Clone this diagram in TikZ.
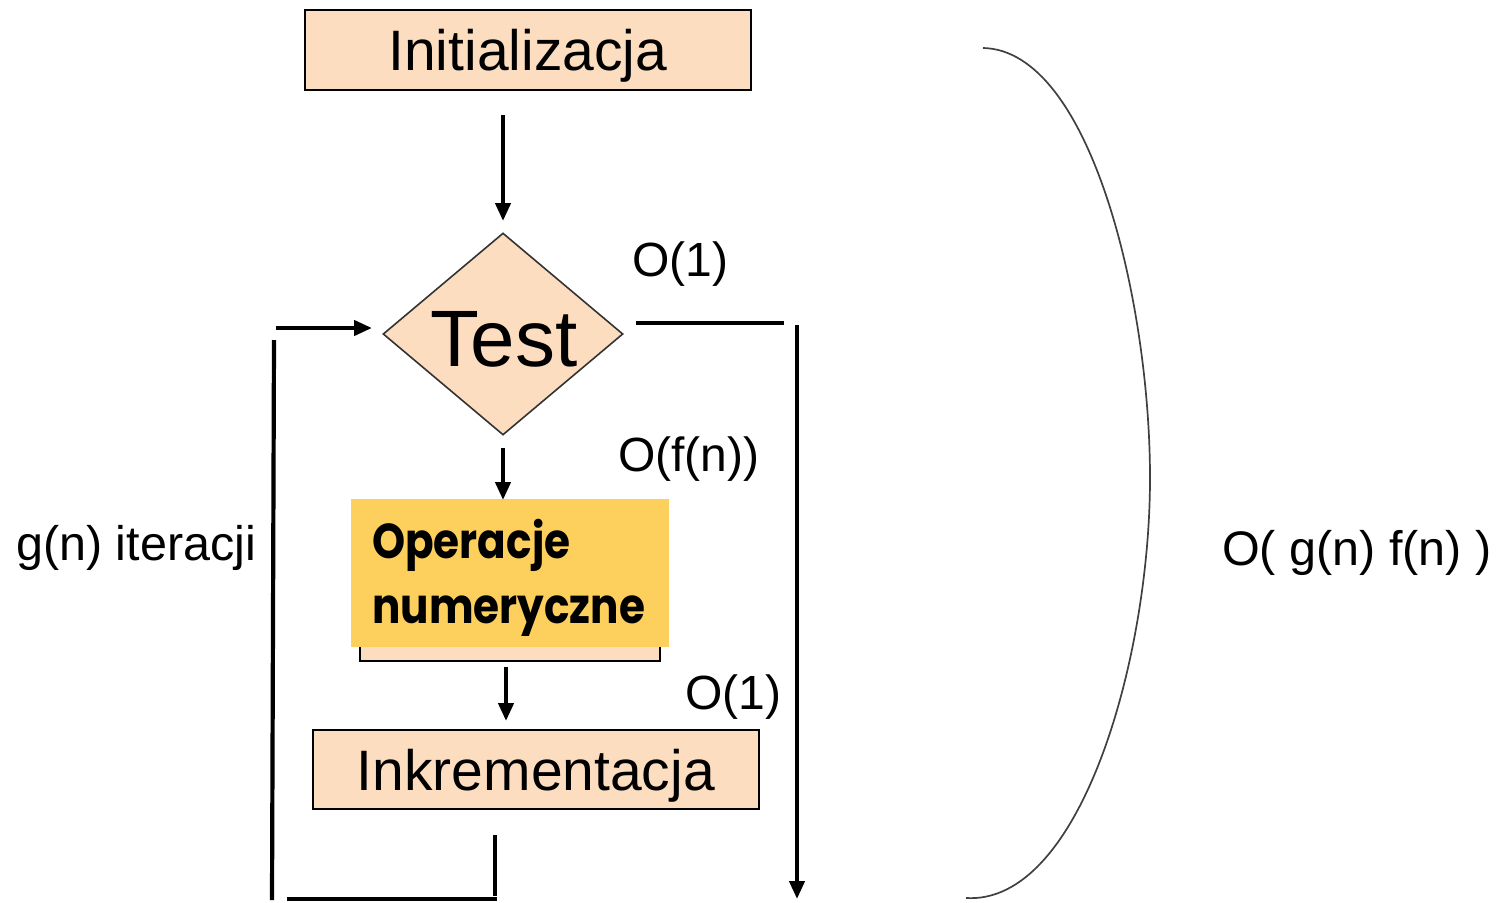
\documentclass[tikz,border=0pt]{standalone}
\usepackage{fontspec}
\setmainfont{Liberation Sans}
\newfontfamily\geo{Poppins}[FakeStretch=0.86]
\usetikzlibrary{shapes.geometric,arrows.meta}
\definecolor{peach}{HTML}{FDDDC0}
\definecolor{gold}{HTML}{FDCF5C}
\begin{document}
\begin{tikzpicture}[x=1pt,y=-1pt,
  box/.style={draw=black,line width=1.7pt,fill=peach,inner sep=0pt,anchor=north west,text depth=0pt},
  conn/.style={line width=4.2pt},
  arr/.style={conn,-{Triangle[length=18pt,width=15pt]}},
  lbl/.style={inner sep=0pt,anchor=base west,font=\fontsize{48}{50}\selectfont},
  big/.style={font=\fontsize{57}{60}\selectfont},
  ops/.style={inner sep=0pt,anchor=base west,font=\geo\bfseries\fontsize{49}{52}\selectfont}]
\useasboundingbox (0,0) rectangle (1501,902);
% boxes
\node[box,minimum width=446pt,minimum height=80pt,big] (init) at (304,9) {Initializacja};
\node[diamond,draw=black!80,line width=1.6pt,fill=peach,minimum width=240pt,minimum height=202pt,inner sep=0pt] (test) at (503,334) {};
\node[inner sep=0pt,anchor=base,font=\fontsize{80}{84}\selectfont] (testlbl) at (504,366) {Test};
\node[box,minimum width=300pt,minimum height=140pt] (opsbg) at (359,520) {};
\node[fill=gold,inner sep=0pt,anchor=north west,minimum width=318pt,minimum height=148pt] (ops) at (351,499) {};
\node[ops] (ops1) at (372,558) {Operacje};
\node[ops] (ops2) at (372,623) {numeryczne};
\node[box,minimum width=446pt,minimum height=79pt,big] (incr) at (312,729) {Inkrementacja};
% labels
\node[lbl] (o1a) at (632,276) {O(1)};
\node[lbl] (ofn) at (618,471) {O(f(n))};
\node[lbl] (o1b) at (685,709) {O(1)};
\node[lbl,font=\fontsize{48.5}{52}\selectfont] (gn) at (16,560) {g(n) iteracji};
\node[lbl,font=\fontsize{48.5}{52}\selectfont] (ogf) at (1222,565) {O( g(n) f(n) )};
% connectors
\coordinate (a1s) at (503,115);
\coordinate (a1e) at (503,221);
\draw[arr] (a1s) -- (a1e);
\coordinate (a2s) at (503,448);
\coordinate (a2e) at (503,500);
\draw[arr] (a2s) -- (a2e);
\coordinate (a3s) at (506,667);
\coordinate (a3e) at (506,721);
\draw[arr] (a3s) -- (a3e);
% exit
\coordinate (ex1) at (636,323);
\coordinate (ex2) at (784,323);
\draw[conn] (ex1) -- (ex2);
\coordinate (ex3) at (797,325);
\coordinate (ex4) at (797,899);
\draw[arr] (ex3) -- (ex4);
% loop back
\coordinate (lb1) at (495,835);
\coordinate (lb2) at (495,896);
\draw[conn] (lb1) -- (lb2);
\coordinate (lb3) at (497,899);
\coordinate (lb4) at (287,899);
\draw[conn] (lb3) -- (lb4);
\coordinate (lb5) at (272,900);
\coordinate (lb6) at (274,340);
\draw[conn] (lb5) -- (lb6);
\coordinate (lb7) at (276,328);
\coordinate (lb8) at (372,328);
\draw[arr] (lb7) -- (lb8);
% brace curve
\coordinate (c1) at (983,48);
\coordinate (c2) at (1150,478);
\coordinate (c3) at (966,898);
\draw[line width=1.7pt,black!75] (c1) .. controls (1090,50) and (1150,300) .. (c2) .. controls (1150,660) and (1080,905) .. (c3);
\end{tikzpicture}
\end{document}
